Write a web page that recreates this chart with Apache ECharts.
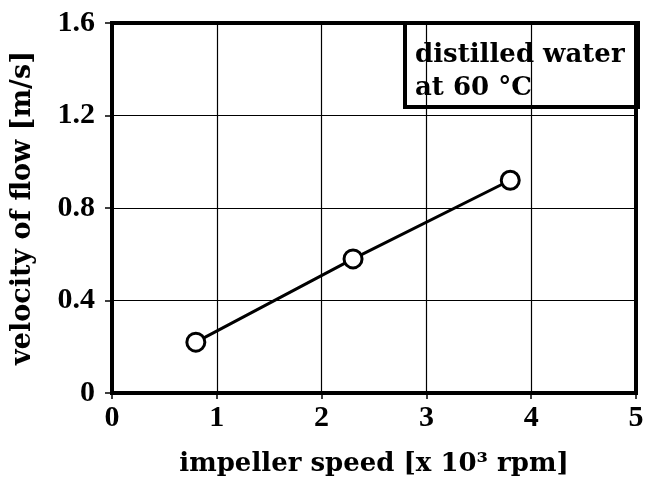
<!DOCTYPE html>
<html>
<head>
<meta charset="utf-8">
<script src="https://cdn.jsdelivr.net/npm/echarts@6/dist/echarts.min.js"></script>
<style>
  html, body { margin: 0; padding: 0; background: #fff; }
  #chart { width: 649px; height: 482px; }
</style>
</head>
<body>
<div id="chart"></div>
<script>
// 数据
const speeds = [0.8, 2.3, 3.8];          // x 10^3 rpm
const velocities = [0.22, 0.58, 0.92];   // m/s
const xTicks = [0, 1, 2, 3, 4, 5];
const yTicks = [0, 0.4, 0.8, 1.2, 1.6];
const legendLines = ['distilled water', 'at 60 \u00b0C'];

const chart = echarts.init(document.getElementById('chart'));
const tickFont = '"Liberation Serif", "Times New Roman", serif';
const titleFont = '"DejaVu Serif", "Liberation Serif", serif';

const option = {
  backgroundColor: '#fff',
  animation: false,
  grid: { left: 112, right: 13, top: 23, bottom: 89 },
  xAxis: {
    type: 'value',
    min: xTicks[0],
    max: xTicks[xTicks.length - 1],
    interval: 1,
    name: 'impeller speed [x 10\u00b3 rpm]',
    nameLocation: 'middle',
    nameGap: 58,
    nameTextStyle: { color: '#000', fontFamily: titleFont, fontWeight: 'bold', fontSize: 26 },
    axisLine: { show: true, lineStyle: { color: '#000', width: 4 } },
    axisTick: { show: true, length: 6, lineStyle: { color: '#000', width: 1.5 } },
    axisLabel: { color: '#000', fontFamily: tickFont, fontWeight: 'bold', fontSize: 30, margin: 10 },
    splitLine: { show: true, lineStyle: { color: '#000', width: 1.2 } }
  },
  yAxis: {
    type: 'value',
    min: yTicks[0],
    max: yTicks[yTicks.length - 1],
    interval: 0.4,
    name: 'velocity of flow [m/s]',
    nameLocation: 'middle',
    nameGap: 76,
    nameTextStyle: { color: '#000', fontFamily: titleFont, fontWeight: 'bold', fontSize: 27 },
    axisLine: { show: true, lineStyle: { color: '#000', width: 4 } },
    axisTick: { show: true, length: 7, lineStyle: { color: '#000', width: 1.5 } },
    axisLabel: {
      color: '#000', fontFamily: tickFont, fontWeight: 'bold', fontSize: 30, margin: 17,
      formatter: v => (v === 0 ? '0' : v.toFixed(1))
    },
    splitLine: { show: true, lineStyle: { color: '#000', width: 1.2 } }
  },
  graphic: [
    // 右侧和顶部边框
    {
      type: 'rect',
      shape: { x: 112, y: 23, width: 524, height: 370 },
      style: { fill: 'none', stroke: '#000', lineWidth: 4 },
      z: 10
    },
    // 图例框
    {
      type: 'group',
      left: 403,
      top: 21,
      z: 20,
      children: [
        {
          type: 'rect',
          shape: { x: 2, y: 2, width: 233, height: 84 },
          style: { fill: '#fff', stroke: '#000', lineWidth: 4 }
        },
        {
          type: 'text',
          x: 12, y: 18,
          style: {
            text: legendLines.join('\n'),
            fill: '#000',
            font: 'bold 26px ' + titleFont,
            lineHeight: 33
          }
        }
      ]
    }
  ],
  series: [
    {
      type: 'line',
      data: speeds.map((s, i) => [s, velocities[i]]),
      symbol: 'circle',
      symbolSize: 18,
      itemStyle: { color: '#fff', borderColor: '#000', borderWidth: 3 },
      lineStyle: { color: '#000', width: 3 },
      z: 5
    }
  ]
};

chart.setOption(option);
window.addEventListener('resize', () => chart.resize());
</script>
</body>
</html>
